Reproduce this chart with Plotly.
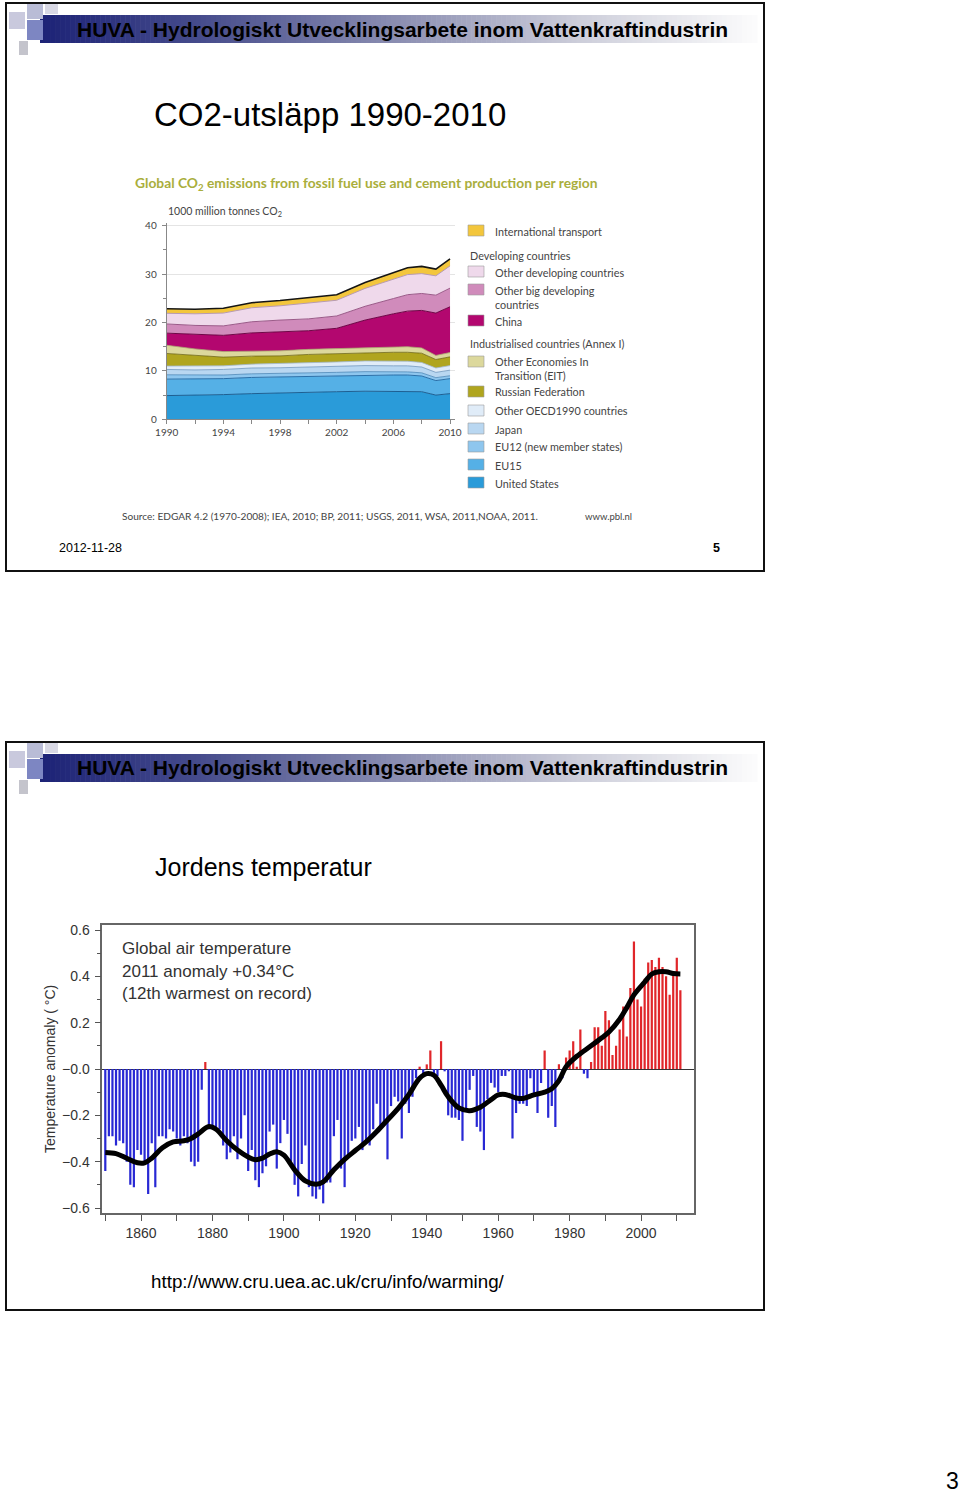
import plotly.graph_objects as go

W, H = 960, 1494
def px(x): return x / W
def py(y): return 1 - y / H

# ---------------- CO2 data (1000 million tonnes CO2, per region) ----------------
co2_years = [1990, 1992, 1994, 1996, 1998, 2000, 2002, 2004, 2006, 2007, 2008, 2009, 2010]
united_states   = [4.9, 4.95, 5.1, 5.3, 5.45, 5.7, 5.7, 5.8, 5.8, 5.85, 5.7, 5.0, 5.3]
eu15            = [3.4, 3.35, 3.3, 3.35, 3.3, 3.3, 3.35, 3.4, 3.35, 3.3, 3.25, 3.0, 3.1]
eu12            = [0.9, 0.8, 0.75, 0.75, 0.7, 0.65, 0.65, 0.65, 0.65, 0.65, 0.65, 0.6, 0.6]
japan           = [1.1, 1.1, 1.15, 1.2, 1.2, 1.2, 1.25, 1.25, 1.25, 1.25, 1.2, 1.1, 1.15]
other_oecd      = [0.7, 0.75, 0.75, 0.8, 0.85, 0.9, 0.9, 0.95, 0.95, 0.95, 0.95, 0.9, 0.95]
russia          = [2.6, 2.3, 1.8, 1.65, 1.6, 1.65, 1.7, 1.75, 1.85, 1.85, 1.9, 1.75, 1.8]
other_eit       = [1.7, 1.3, 1.15, 1.05, 1.05, 1.05, 1.05, 1.1, 1.15, 1.15, 1.1, 0.85, 0.9]
china           = [2.5, 2.95, 3.35, 3.75, 3.9, 3.85, 4.2, 5.6, 6.8, 7.35, 7.75, 8.75, 9.45]
other_big_dev   = [1.9, 1.9, 1.95, 2.3, 2.45, 2.45, 2.55, 2.85, 3.15, 3.4, 3.5, 3.7, 3.85]
other_dev       = [2.2, 2.4, 2.65, 2.9, 2.95, 3.2, 3.25, 3.7, 3.95, 4.15, 4.1, 4.0, 4.6]
intl_transport  = [0.95, 0.95, 1.0, 1.05, 1.1, 1.2, 1.15, 1.2, 1.3, 1.4, 1.5, 1.4, 1.45]

co2_names = ["United States", "EU15", "EU12 (new member states)", "Japan",
             "Other OECD1990 countries", "Russian Federation",
             "Other Economies In<br>Transition (EIT)", "China",
             "Other big developing<br>countries", "Other developing countries",
             "International transport"]
co2_values = [united_states, eu15, eu12, japan, other_oecd, russia, other_eit,
              china, other_big_dev, other_dev, intl_transport]
co2_fill = ["#2a9bd9", "#55b0e6", "#8ec6ee", "#b9d7f1", "#e0ecf8", "#b0a51e",
            "#dcd89c", "#b3076f", "#d08bbb", "#efd9eb", "#f3c63c"]
co2_line = ["#1d5f92", "#2a6fa8", "#4a86b8", "#6f95bd", "#9fb6cf", "#6e6714",
            "#a8a46a", "#6e0646", "#9a5a88", "#b79ab2", "#151515"]
co2_line_w = [1, 1, 0.8, 0.8, 0.8, 0.8, 0.8, 1, 1, 1, 1.6]

# legend rows: (series index, y centre of text block)
legend_rows = [(10, 231), (9, 272), (8, 297.5), (7, 321), (6, 369), (5, 392),
               (4, 411), (3, 429), (2, 447), (1, 465), (0, 483)]
legend_swatch_top = [225, 266, 284, 315, 356, 386, 405, 423, 441, 459, 477]

# ---------------- Temperature data (anomaly, deg C) ----------------
temp_years = list(range(1850, 2012))
temp_anomaly = [
    -0.44, -0.29, -0.29, -0.33, -0.31, -0.32, -0.40, -0.50, -0.51, -0.35,
    -0.37, -0.41, -0.54, -0.32, -0.51, -0.29, -0.29, -0.30, -0.26, -0.27,
    -0.30, -0.33, -0.29, -0.32, -0.40, -0.42, -0.40, -0.09, 0.03, -0.26,
    -0.26, -0.25, -0.26, -0.33, -0.39, -0.36, -0.29, -0.39, -0.30, -0.20,
    -0.44, -0.35, -0.48, -0.51, -0.45, -0.42, -0.27, -0.24, -0.43, -0.32,
    -0.22, -0.28, -0.40, -0.50, -0.55, -0.41, -0.33, -0.51, -0.55, -0.56,
    -0.52, -0.58, -0.49, -0.49, -0.29, -0.22, -0.43, -0.51, -0.37, -0.31,
    -0.30, -0.25, -0.35, -0.32, -0.33, -0.26, -0.15, -0.25, -0.24, -0.39,
    -0.16, -0.12, -0.14, -0.30, -0.15, -0.19, -0.12, -0.04, 0.01, -0.02,
    0.02, 0.08, -0.03, -0.03, 0.12, -0.01, -0.20, -0.21, -0.21, -0.22,
    -0.31, -0.17, -0.09, -0.03, -0.25, -0.27, -0.35, -0.13, -0.06, -0.08,
    -0.10, -0.03, -0.03, -0.01, -0.30, -0.19, -0.15, -0.15, -0.16, -0.04,
    -0.11, -0.19, -0.06, 0.08, -0.21, -0.16, -0.25, 0.02, -0.04, 0.05,
    0.08, 0.12, 0.01, 0.17, -0.02, -0.04, 0.03, 0.18, 0.18, 0.10,
    0.25, 0.21, 0.06, 0.10, 0.17, 0.27, 0.14, 0.35, 0.55, 0.30,
    0.27, 0.39, 0.46, 0.47, 0.44, 0.48, 0.44, 0.40, 0.32, 0.42,
    0.48, 0.34]
smooth_years = [1850, 1853, 1856, 1859, 1861, 1863, 1866, 1869, 1872, 1874, 1876,
                1879, 1881, 1884, 1887, 1890, 1892, 1894, 1896, 1898, 1900, 1903,
                1906, 1909, 1911, 1914, 1917, 1920, 1923, 1926, 1929, 1932, 1935,
                1938, 1940, 1942, 1944, 1946, 1949, 1952, 1955, 1958, 1960, 1962,
                1965, 1967, 1970, 1973, 1975, 1977, 1979, 1982, 1986, 1989, 1991,
                1994, 1996, 1998, 2001, 2003, 2005, 2007, 2009, 2011]
smooth_values = [-0.36, -0.365, -0.385, -0.405, -0.405, -0.385, -0.34, -0.315, -0.31,
                 -0.30, -0.28, -0.248, -0.26, -0.31, -0.35, -0.38, -0.392, -0.385,
                 -0.367, -0.357, -0.372, -0.435, -0.483, -0.497, -0.487, -0.435,
                 -0.39, -0.352, -0.315, -0.27, -0.22, -0.17, -0.11, -0.04, -0.02,
                 -0.027, -0.07, -0.12, -0.168, -0.18, -0.165, -0.132, -0.112, -0.11,
                 -0.125, -0.127, -0.112, -0.10, -0.085, -0.05, 0.01, 0.055, 0.10,
                 0.135, 0.16, 0.215, 0.265, 0.32, 0.375, 0.41, 0.42, 0.42, 0.412, 0.41]
temp_ticks = [-0.6, -0.4, -0.2, 0.0, 0.2, 0.4, 0.6]
temp_ticktext = ["\u22120.6", "\u22120.4", "\u22120.2", "\u22120.0", "0.2", "0.4", "0.6"]

SANS = "Liberation Sans, Arial, sans-serif"
HUM = "Lato, Open Sans, sans-serif"

fig = go.Figure()

# ---- stacked areas
for name, vals, fc, lc, lw in zip(co2_names, co2_values, co2_fill, co2_line, co2_line_w):
    fig.add_trace(go.Scatter(x=co2_years, y=vals, stackgroup="co2", mode="lines",
                             line=dict(color=lc, width=lw), fillcolor=fc,
                             name=name.replace("<br>", " "), showlegend=False,
                             xaxis="x", yaxis="y"))

# ---- temperature bars & smooth
bar_colors = ["#e0262a" if v > 0 else "#2828d4" for v in temp_anomaly]
fig.add_trace(go.Bar(x=temp_years, y=temp_anomaly, width=0.62,
                     marker=dict(color=bar_colors, line=dict(width=0)),
                     showlegend=False, xaxis="x2", yaxis="y2"))
fig.add_trace(go.Scatter(x=smooth_years, y=smooth_values, mode="lines",
                         line=dict(color="black", width=5, shape="spline", smoothing=1.0),
                         showlegend=False, xaxis="x2", yaxis="y2"))

shapes = []
annotations = []

# ---- slide frames, headers
for off in (0, 739):
    shapes.append(dict(type="rect", xref="paper", yref="paper", x0=px(6), x1=px(764),
                       y0=py(3 + off), y1=py(571 + off), line=dict(color="#111", width=2),
                       fillcolor="rgba(0,0,0,0)", layer="below"))
    stops = [(40, (28, 34, 118)), (200, (70, 76, 140)), (400, (140, 143, 178)),
             (580, (205, 206, 218)), (757, (252, 252, 252))]
    n = 143
    x_start, x_end = 40, 757
    step = (x_end - x_start) / n
    for i in range(n):
        xm = x_start + (i + 0.5) * step
        for j in range(len(stops) - 1):
            if stops[j][0] <= xm <= stops[j + 1][0]:
                t = (xm - stops[j][0]) / (stops[j + 1][0] - stops[j][0])
                c = [round(stops[j][1][k] + t * (stops[j + 1][1][k] - stops[j][1][k])) for k in range(3)]
                break
        shapes.append(dict(type="rect", xref="paper", yref="paper",
                           x0=px(x_start + i * step), x1=px(x_start + (i + 1) * step + 0.6),
                           y0=py(15 + off), y1=py(43 + off), line=dict(width=0),
                           fillcolor=f"rgb({c[0]},{c[1]},{c[2]})", layer="below"))
    for (x0, y0, x1, y1, col) in [(9, 12, 25, 29, "#c9c9dd"), (27, 4, 43, 19, "#b9bcd6"),
                                   (27, 20, 43, 40, "#7d86c2"), (19, 41, 28, 55, "#c4c4cc"),
                                   (45, 4, 58, 14, "#d8d8e4")]:
        shapes.append(dict(type="rect", xref="paper", yref="paper", x0=px(x0), x1=px(x1),
                           y0=py(y0 + off), y1=py(y1 + off), line=dict(width=0),
                           fillcolor=col, layer="below"))
    annotations.append(dict(text="<b>HUVA - Hydrologiskt Utvecklingsarbete inom Vattenkraftindustrin</b>",
                            x=px(75), y=py(29 + off), xanchor="left", yanchor="middle",
                            font=dict(family=SANS, size=21, color="#000")))

# ---- slide 1 texts
annotations += [
    dict(text="CO2-utsläpp 1990-2010", x=px(152), y=py(115), xanchor="left", yanchor="middle",
         font=dict(family=SANS, size=33, color="#000")),
    dict(text="<b>Global CO<sub>2</sub> emissions from fossil fuel use and cement production per region</b>",
         x=px(133), y=py(184), xanchor="left", yanchor="middle",
         font=dict(family=HUM, size=13.8, color="#a9ae3c")),
    dict(text="1000 million tonnes CO<sub>2</sub>", x=px(166), y=py(212), xanchor="left", yanchor="middle",
         font=dict(family=HUM, size=10.5, color="#444")),
    dict(text="Developing countries", x=px(468), y=py(255), xanchor="left", yanchor="middle",
         font=dict(family=HUM, size=10.8, color="#444")),
    dict(text="Industrialised countries (Annex I)", x=px(468), y=py(344), xanchor="left", yanchor="middle",
         font=dict(family=HUM, size=10.8, color="#444")),
    dict(text="Source: EDGAR 4.2 (1970-2008); IEA, 2010; BP, 2011; USGS, 2011, WSA, 2011,NOAA, 2011.",
         x=px(120), y=py(516), xanchor="left", yanchor="middle",
         font=dict(family=HUM, size=10.1, color="#444")),
    dict(text="www.pbl.nl", x=px(583), y=py(516), xanchor="left", yanchor="middle",
         font=dict(family=HUM, size=9.5, color="#444")),
    dict(text="2012-11-28", x=px(57), y=py(548), xanchor="left", yanchor="middle",
         font=dict(family=SANS, size=12.5, color="#000")),
    dict(text="<b>5</b>", x=px(711), y=py(548), xanchor="left", yanchor="middle",
         font=dict(family=SANS, size=12.5, color="#000")),
]
for (idx, yc), top in zip(legend_rows, legend_swatch_top):
    shapes.append(dict(type="rect", xref="paper", yref="paper", x0=px(468), x1=px(484),
                       y0=py(top), y1=py(top + 11), fillcolor=co2_fill[idx],
                       line=dict(color="#9a9a9a", width=0.6)))
    annotations.append(dict(text=co2_names[idx], x=px(493), y=py(yc), xanchor="left", yanchor="middle",
                            align="left", font=dict(family=HUM, size=10.8, color="#444")))

# ---- slide 2 texts
annotations += [
    dict(text="Jordens temperatur", x=px(153), y=py(867), xanchor="left", yanchor="middle",
         font=dict(family=SANS, size=25, color="#000")),
    dict(text="Global air temperature", x=px(120), y=py(948), xanchor="left", yanchor="middle",
         font=dict(family=SANS, size=17, color="#333")),
    dict(text="2011 anomaly +0.34\u00b0C", x=px(120), y=py(971), xanchor="left", yanchor="middle",
         font=dict(family=SANS, size=17, color="#333")),
    dict(text="(12th warmest on record)", x=px(120), y=py(994), xanchor="left", yanchor="middle",
         font=dict(family=SANS, size=17, color="#333")),
    dict(text="Temperature anomaly ( \u00b0C)", x=px(50), y=py(1069), xanchor="center", yanchor="middle",
         textangle=-90, font=dict(family=SANS, size=14, color="#333")),
    dict(text="http://www.cru.uea.ac.uk/cru/info/warming/", x=px(149), y=py(1281),
         xanchor="left", yanchor="middle", font=dict(family=SANS, size=18.8, color="#000")),
    dict(text="3", x=px(944), y=py(1481), xanchor="left", yanchor="middle",
         font=dict(family=SANS, size=23, color="#000")),
]
for a in annotations:
    a.setdefault("xref", "paper")
    a.setdefault("yref", "paper")
    a.setdefault("showarrow", False)

# ---- axes
co2_x0, co2_x1 = 166.7, 455.0
co2_ytop, co2_ybot = 223.3, 419.3
t_x0, t_x1 = 102.3, 694.3
t_ytop, t_ybot = 925, 1213

fig.update_layout(
    template="none",
    width=W, height=H, margin=dict(l=0, r=0, t=0, b=0, pad=0, autoexpand=False),
    paper_bgcolor="white", plot_bgcolor="rgba(0,0,0,0)",
    shapes=shapes, annotations=annotations, showlegend=False,
    xaxis=dict(domain=[px(co2_x0), px(co2_x1)], range=[1990, 2010.35], automargin=False,
               tickvals=[1990, 1994, 1998, 2002, 2006, 2010], ticks="outside", ticklen=4,
               tickcolor="#888", showline=True, linecolor="#888", linewidth=1, showgrid=False,
               zeroline=False, minor=dict(dtick=2, tick0=1990, ticks="outside", ticklen=4, tickcolor="#888"),
               tickfont=dict(family=HUM, size=10, color="#444"), anchor="y"),
    yaxis=dict(domain=[py(co2_ybot), py(co2_ytop)], range=[0, 40.5], dtick=10, automargin=False,
               ticks="outside", ticklen=4, tickcolor="#888", showline=True, linecolor="#888",
               linewidth=1, showgrid=True, gridcolor="#e4e4e4", gridwidth=1, zeroline=False,
               minor=dict(dtick=5, ticks="outside", ticklen=3, tickcolor="#888", showgrid=False),
               tickfont=dict(family=HUM, size=10, color="#444"), ticklabelstandoff=3, anchor="x"),
    xaxis2=dict(domain=[px(t_x0), px(t_x1)], range=[1849.16, 2014.9], automargin=False,
                tickvals=[1860, 1880, 1900, 1920, 1940, 1960, 1980, 2000],
                ticks="outside", ticklen=6, tickcolor="#555", showline=True, mirror=True,
                linecolor="#666", linewidth=1.5, showgrid=False, zeroline=False,
                minor=dict(dtick=10, tick0=1850, ticks="outside", ticklen=6, tickcolor="#555", showgrid=False),
                tickfont=dict(family=SANS, size=14, color="#333"), anchor="y2"),
    yaxis2=dict(domain=[py(t_ybot), py(t_ytop)], range=[-0.6216, 0.6216], automargin=False,
                tickvals=temp_ticks, ticktext=temp_ticktext, ticks="outside", ticklen=6,
                tickcolor="#555", showline=True, mirror=True, linecolor="#666", linewidth=1.5,
                showgrid=False, zeroline=True, zerolinecolor="#333", zerolinewidth=1,
                minor=dict(dtick=0.1, tick0=0, ticks="outside", ticklen=4, tickcolor="#555", showgrid=False),
                tickfont=dict(family=SANS, size=14, color="#333"), ticklabelstandoff=2, anchor="x2"),
)

fig.write_html("out.html", config={"displayModeBar": False},
               post_script="document.body.style.margin='0';document.body.style.padding='0';")
